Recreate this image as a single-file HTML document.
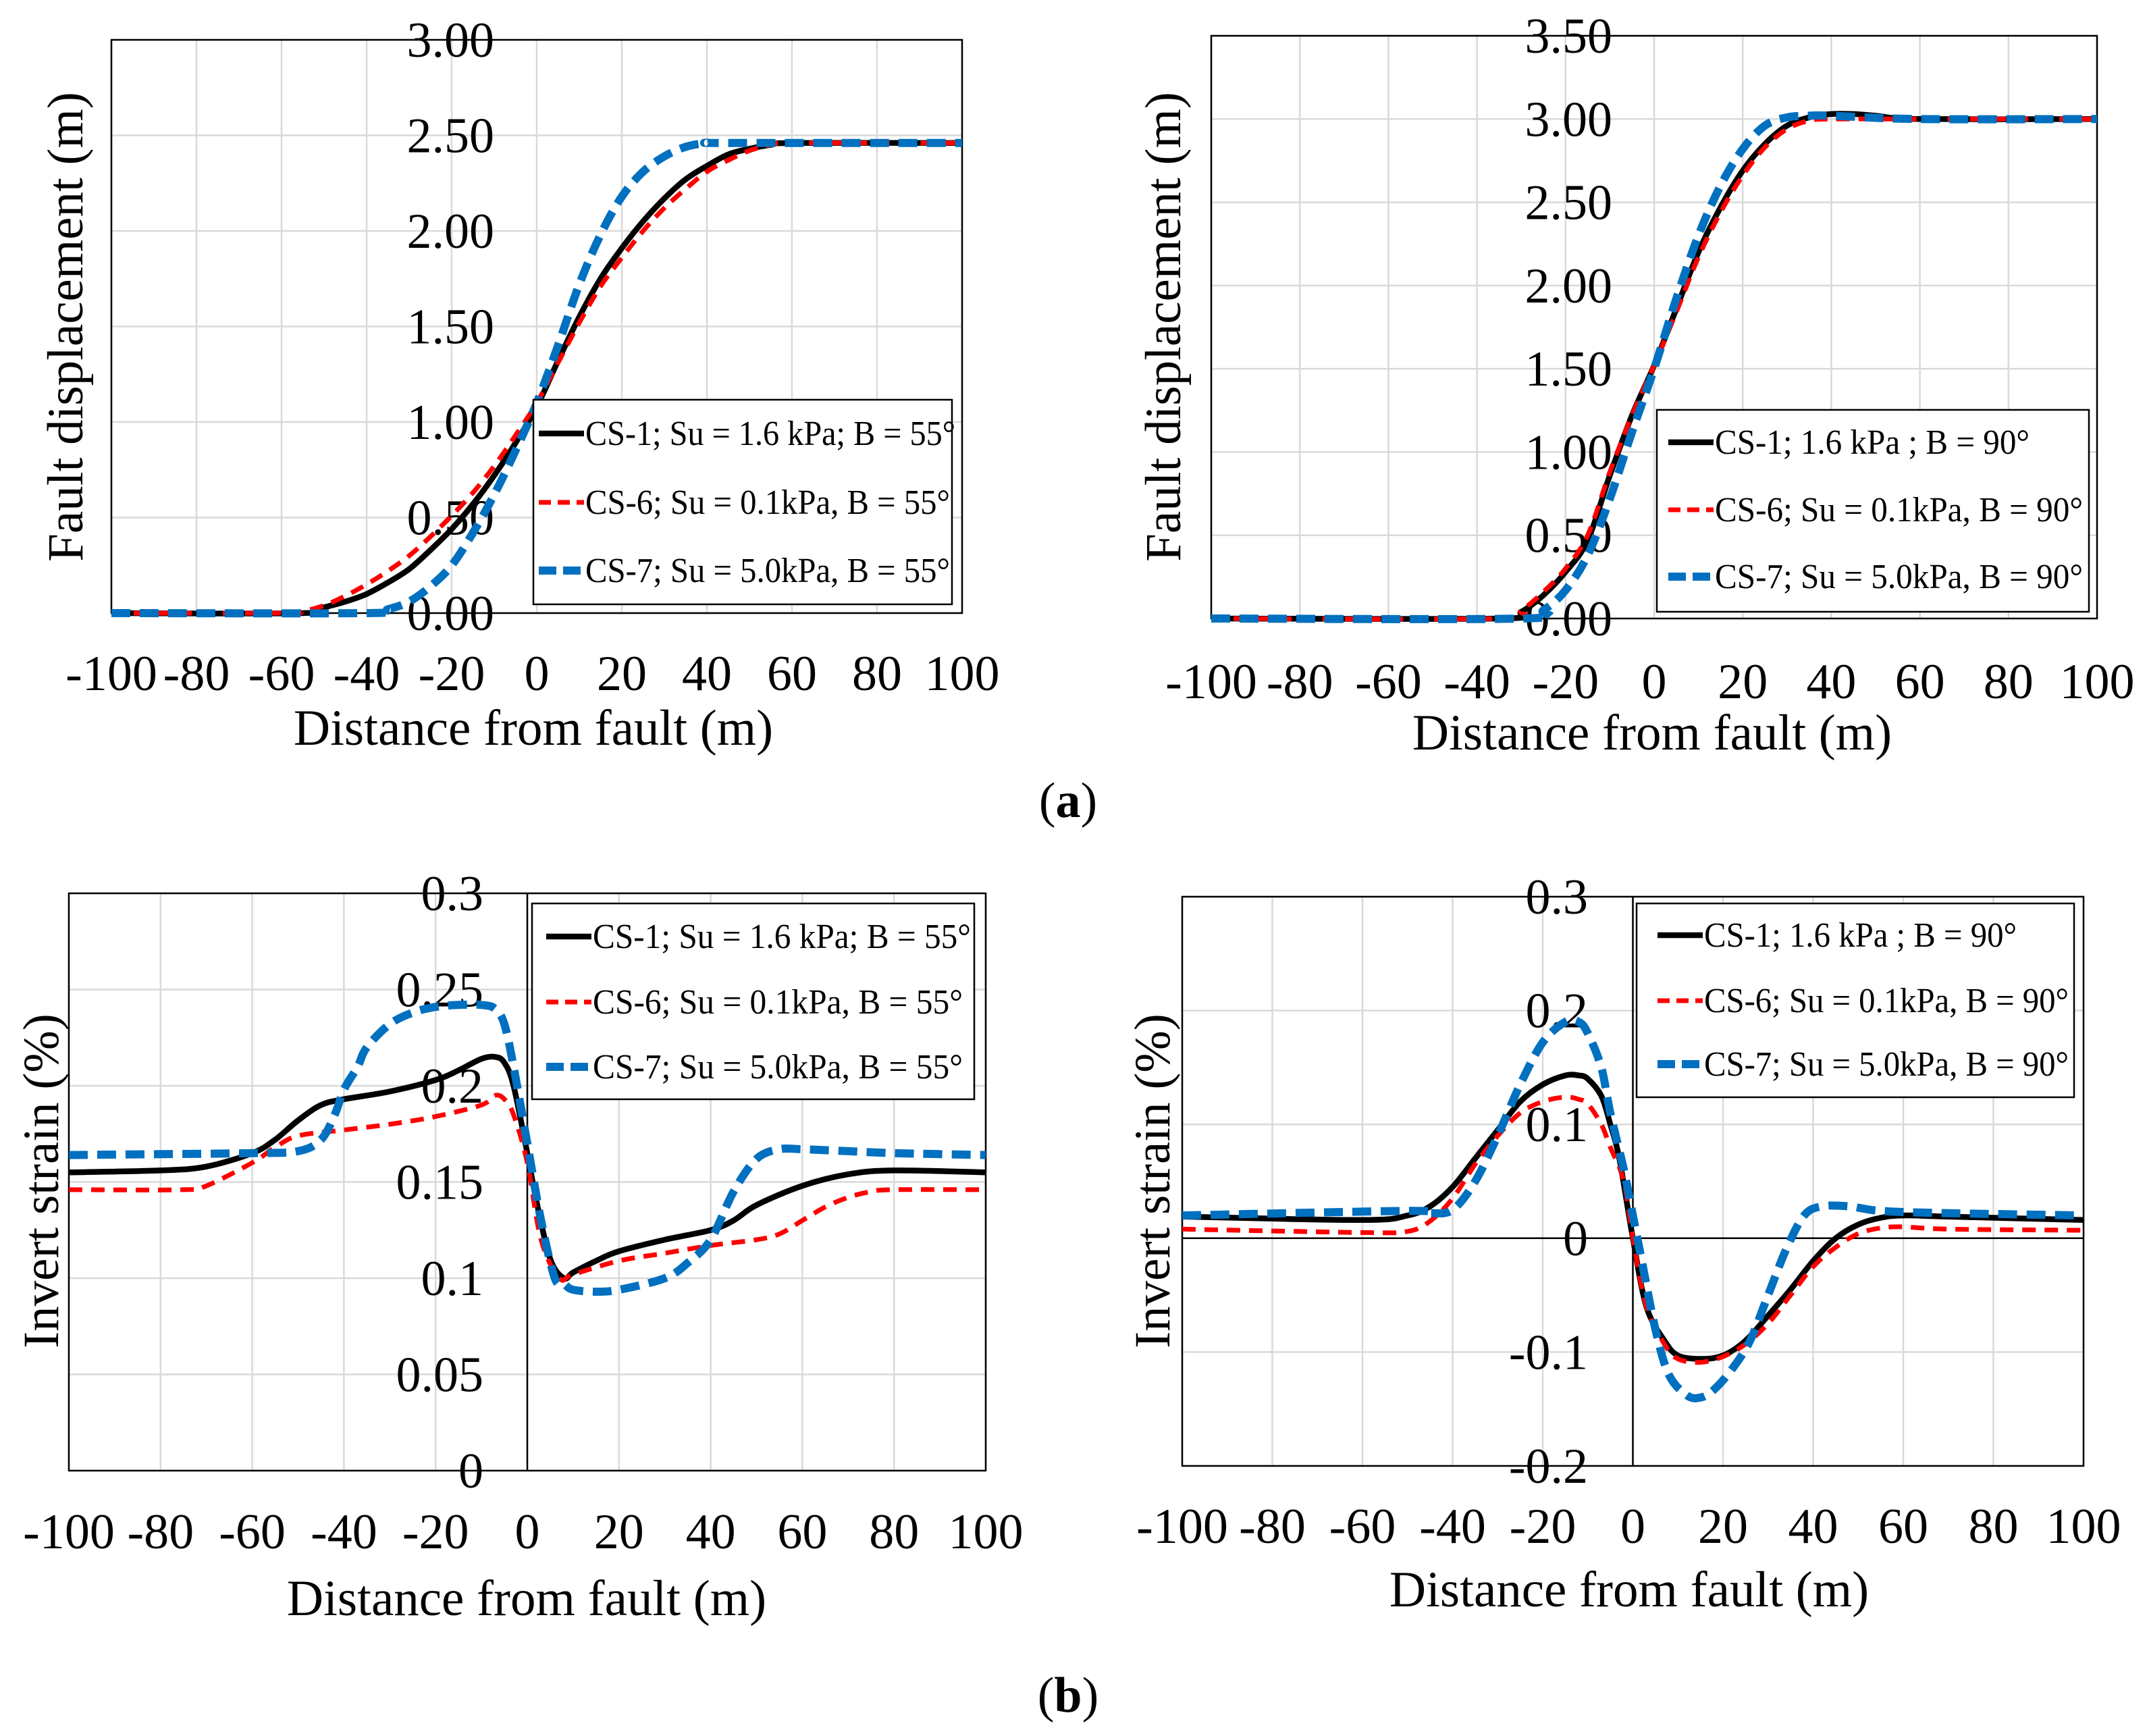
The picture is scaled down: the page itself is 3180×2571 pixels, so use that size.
<!DOCTYPE html>
<html><head><meta charset="utf-8"><style>
html,body{margin:0;padding:0;background:#fff}
svg{display:block}
text{font-family:"Liberation Serif",serif;fill:#000}
</style></head><body>
<svg id="fig" width="3180" height="2571" viewBox="0 0 3180 2571" xmlns="http://www.w3.org/2000/svg">
<rect width="3180" height="2571" fill="#fff"/>
<text x="1582" y="1210" font-size="74" text-anchor="middle">(<tspan font-weight="bold">a</tspan>)</text>
<text x="1582" y="2535" font-size="74" text-anchor="middle">(<tspan font-weight="bold">b</tspan>)</text>
</svg>
<script>
// ---- data ----
const xTicks = [-100,-80,-60,-40,-20,0,20,40,60,80,100];
const seriesNames = ["CS-1", "CS-6", "CS-7"];
// Chart a1
const a1Y = [0,0.5,1,1.5,2,2.5,3];
const a1YLabels = ["0.00","0.50","1.00","1.50","2.00","2.50","3.00"];
const a1Legend = ["CS-1; Su = 1.6 kPa; B = 55°","CS-6; Su = 0.1kPa, B = 55°","CS-7; Su = 5.0kPa, B = 55°"];
const a1X1 = [-100,-55,-50,-45,-40,-35,-30,-25,-20,-15,-10,-5,0,5,10,15,20,25,30,35,40,45,50,55,60,100];
const a1S1 = [0,0,0.03,0.06,0.10,0.16,0.23,0.33,0.44,0.57,0.72,0.89,1.08,1.32,1.55,1.75,1.91,2.05,2.17,2.27,2.34,2.40,2.43,2.45,2.46,2.46];
const a1X6 = [-100,-60,-55,-50,-45,-40,-35,-30,-25,-20,-15,-10,-5,0,5,10,15,20,25,30,35,40,45,50,55,60,100];
const a1S6 = [0,0,0.01,0.04,0.09,0.15,0.22,0.30,0.40,0.51,0.63,0.77,0.93,1.10,1.31,1.52,1.71,1.86,2.00,2.12,2.22,2.31,2.37,2.42,2.45,2.46,2.46];
const a1X7 = [-100,-40,-35,-30,-25,-20,-15,-10,-5,0,5,10,15,20,25,30,35,40,45,100];
const a1S7 = [0,0,0.02,0.06,0.14,0.25,0.42,0.62,0.85,1.10,1.40,1.72,1.98,2.18,2.31,2.39,2.44,2.46,2.46,2.46];
// Chart a2
const a2Y = [0,0.5,1,1.5,2,2.5,3,3.5];
const a2YLabels = ["0.00","0.50","1.00","1.50","2.00","2.50","3.00","3.50"];
const a2Legend = ["CS-1; 1.6 kPa ; B = 90°","CS-6; Su = 0.1kPa, B = 90°","CS-7; Su = 5.0kPa, B = 90°"];
const a2X1 = [-100,-35,-30,-25,-20,-15,-10,-5,0,5,10,15,20,25,30,35,40,45,50,60,100];
const a2S1 = [0,0,0.04,0.14,0.28,0.47,0.86,1.22,1.52,1.86,2.20,2.47,2.69,2.85,2.96,3.01,3.03,3.03,3.02,3.00,3.00];
const a2X6 = [-100,-35,-30,-25,-20,-15,-10,-5,0,5,10,15,20,25,30,35,40,60,100];
const a2S6 = [0,0,0.05,0.16,0.30,0.50,0.88,1.22,1.52,1.84,2.17,2.44,2.66,2.83,2.94,2.99,3.00,3.00,3.00];
const a2X7 = [-100,-30,-25,-20,-15,-10,-5,0,5,10,15,20,25,30,35,40,60,100];
const a2S7 = [0,0,0.05,0.17,0.38,0.72,1.12,1.50,1.92,2.30,2.60,2.82,2.96,3.01,3.02,3.02,3.00,3.00];
// Chart b1
const b1Y = [0,0.05,0.1,0.15,0.2,0.25,0.3];
const b1YLabels = ["0","0.05","0.1","0.15","0.2","0.25","0.3"];
const b1Legend = ["CS-1; Su = 1.6 kPa; B = 55°","CS-6; Su = 0.1kPa, B = 55°","CS-7; Su = 5.0kPa, B = 55°"];
const b1X1 = [-100,-80,-70,-60,-55,-50,-45,-40,-30,-20,-15,-10,-7,-5,-3,0,2,5,8,10,15,20,30,40,45,50,60,70,80,100];
const b1S1 = [0.155,0.156,0.158,0.165,0.172,0.182,0.19,0.193,0.197,0.203,0.208,0.214,0.215,0.212,0.200,0.165,0.14,0.11,0.10,0.103,0.109,0.114,0.12,0.125,0.13,0.138,0.148,0.154,0.156,0.155];
const b1X6 = [-100,-75,-70,-60,-55,-50,-40,-30,-20,-10,-7,-5,-3,0,3,7,10,20,30,40,50,55,60,65,70,75,80,100];
const b1S6 = [0.146,0.146,0.148,0.16,0.168,0.174,0.177,0.18,0.184,0.19,0.195,0.193,0.185,0.16,0.12,0.10,0.102,0.109,0.113,0.117,0.12,0.123,0.13,0.137,0.142,0.145,0.146,0.146];
const b1X7 = [-100,-60,-50,-45,-42,-40,-37,-35,-30,-25,-20,-15,-10,-7,-5,-3,0,3,6,8,10,15,20,30,35,40,45,50,55,60,70,80,100];
const b1S7 = [0.164,0.165,0.166,0.172,0.185,0.198,0.21,0.22,0.232,0.238,0.241,0.242,0.242,0.24,0.232,0.21,0.17,0.13,0.10,0.097,0.094,0.093,0.094,0.10,0.108,0.12,0.145,0.162,0.167,0.167,0.166,0.165,0.164];
// Chart b2
const b2Y = [-0.2,-0.1,0,0.1,0.2,0.3];
const b2YLabels = ["-0.2","-0.1","0","0.1","0.2","0.3"];
const b2Legend = ["CS-1; 1.6 kPa ; B = 90°","CS-6; Su = 0.1kPa, B = 90°","CS-7; Su = 5.0kPa, B = 90°"];
const b2X1 = [-100,-60,-50,-45,-40,-35,-30,-25,-20,-15,-12,-10,-7,-5,-3,0,3,7,10,15,20,25,30,35,40,45,50,55,60,70,100];
const b2S1 = [0.019,0.016,0.02,0.028,0.045,0.07,0.095,0.12,0.135,0.143,0.143,0.14,0.125,0.10,0.07,0,-0.06,-0.09,-0.103,-0.106,-0.103,-0.09,-0.068,-0.045,-0.02,0,0.012,0.018,0.02,0.019,0.016];
const b2X6 = [-100,-60,-50,-45,-40,-35,-30,-25,-20,-15,-12,-10,-7,-5,-2,0,3,7,10,15,20,25,30,35,40,45,50,55,60,70,100];
const b2S6 = [0.008,0.005,0.006,0.015,0.035,0.065,0.09,0.11,0.12,0.124,0.122,0.118,0.10,0.08,0.05,0,-0.06,-0.093,-0.106,-0.109,-0.104,-0.093,-0.075,-0.05,-0.025,-0.008,0.004,0.009,0.01,0.008,0.007];
const b2X7 = [-100,-50,-45,-40,-35,-30,-25,-20,-15,-12,-10,-7,-5,-2,0,2,5,8,12,15,18,22,26,30,34,38,42,48,55,70,100];
const b2S7 = [0.02,0.024,0.022,0.025,0.05,0.09,0.135,0.172,0.19,0.19,0.18,0.15,0.11,0.06,0.02,-0.02,-0.08,-0.12,-0.138,-0.14,-0.133,-0.115,-0.09,-0.05,-0.01,0.02,0.028,0.028,0.024,0.022,0.02];

// ---- rendering ----
const NS = "http://www.w3.org/2000/svg";
const svg = document.getElementById("fig");
function mk(tag, attrs, parent){
  const e = document.createElementNS(NS, tag);
  for (const k in attrs) e.setAttribute(k, attrs[k]);
  (parent||svg).appendChild(e);
  return e;
}
function smoothPath(pts){
  let d = "M" + pts[0][0].toFixed(1) + "," + pts[0][1].toFixed(1);
  for (let i=0;i<pts.length-1;i++){
    const p0 = pts[Math.max(0,i-1)], p1 = pts[i], p2 = pts[i+1], p3 = pts[Math.min(pts.length-1,i+2)];
    const t = 6;
    const c1x = p1[0]+(p2[0]-p0[0])/t, c1y = p1[1]+(p2[1]-p0[1])/t;
    const c2x = p2[0]-(p3[0]-p1[0])/t, c2y = p2[1]-(p3[1]-p1[1])/t;
    d += " C"+c1x.toFixed(1)+","+c1y.toFixed(1)+" "+c2x.toFixed(1)+","+c2y.toFixed(1)+" "+p2[0].toFixed(1)+","+p2[1].toFixed(1);
  }
  return d;
}
const styles = [
  {stroke:"#000000", w:8.5, dash:null},
  {stroke:"#ff0000", w:7, dash:"20 13"},
  {stroke:"#0070c0", w:12, dash:"28 14"}
];

function chart(cfg){
  const g = mk("g", {});
  
  
  const xs = v => cfg.L + (v+100)/200*(cfg.R-cfg.L);
  const ys = v => cfg.B - (v-cfg.yMin)/(cfg.yMax-cfg.yMin)*(cfg.B-cfg.T);
  xTicks.forEach(t=>{
    const l = mk("line",{x1:xs(t),x2:xs(t),y1:cfg.T,y2:cfg.B,stroke:"#d9d9d9","stroke-width":2.5},g);
    
    
  });
  cfg.yVals.forEach(t=>{
    const l = mk("line",{x1:cfg.L,x2:cfg.R,y1:ys(t),y2:ys(t),stroke:"#d9d9d9","stroke-width":2.5},g);
    
    
  });
  const bd = mk("rect",{x:cfg.L,y:cfg.T,width:cfg.R-cfg.L,height:cfg.B-cfg.T,fill:"none",stroke:"#000","stroke-width":2.5},g);
  
  
  if (cfg.zeroAxes){
    const v = mk("line",{x1:xs(0),x2:xs(0),y1:cfg.T,y2:cfg.B,stroke:"#000","stroke-width":2.5},g);
    
    
    if (cfg.yMin<0){
      const h = mk("line",{x1:cfg.L,x2:cfg.R,y1:ys(0),y2:ys(0),stroke:"#000","stroke-width":2.5},g);
      
      
    }
  }
  cfg.yVals.forEach((t,i)=>{
    const tx = mk("text",{x:cfg.yLabX,y:ys(t)+25,"font-size":74,"text-anchor":"end"},g);
    tx.textContent = cfg.yLabels[i];
    
    
  });
  xTicks.forEach(t=>{
    const tx = mk("text",{x:xs(t),y:cfg.xLabY,"font-size":74,"text-anchor":"middle"},g);
    tx.textContent = String(t);
    
    
  });
  const xt = mk("text",{x:cfg.xTitleX,y:cfg.xTitleY,"font-size":75,"text-anchor":"middle"},g);
  xt.textContent = "Distance from fault (m)";
  
  
  const yt = mk("text",{x:0,y:0,"font-size":75,"text-anchor":"middle",transform:"translate("+cfg.yTitleX+","+cfg.yTitleY+") rotate(-90)"},g);
  yt.textContent = cfg.yTitle;
  
  
  cfg.series.forEach((s,i)=>{
    const pts = s.x.map((xv,j)=>[xs(xv), ys(s.y[j])]);
    const st = styles[i];
    const a = {d:smoothPath(pts),fill:"none",stroke:st.stroke,"stroke-width":st.w,"stroke-linejoin":"round"};
    if (st.dash) a["stroke-dasharray"] = st.dash;
    const p = mk("path",a,g);
    
    
  });
  const lg = mk("g",{},g);
  
  
  const lb = mk("rect",{x:cfg.leg.x,y:cfg.leg.y,width:cfg.leg.w,height:cfg.leg.h,fill:"#fff",stroke:"#000","stroke-width":2.5},lg);
  
  
  cfg.legend.forEach((lab,i)=>{
    const ry = cfg.leg.rows[i];
    const st = styles[i];
    const la = {x1:cfg.leg.sx,x2:cfg.leg.sx+67,y1:ry,y2:ry,stroke:st.stroke,"stroke-width":st.w};
    if (st.dash) la["stroke-dasharray"] = i==1 ? "18 10" : "26 10";
    const ln = mk("line",la,lg);
    
    
    const tx = mk("text",{x:cfg.leg.sx+69,y:ry+17,"font-size":52,textLength:cfg.leg.tl[i],lengthAdjust:"spacingAndGlyphs"},lg);
    tx.textContent = lab;
    
    
  });
}

chart({name:"chart-a-55deg-displacement",L:165,R:1425,T:59,B:908,yMin:0,yMax:3,yVals:a1Y,yLabels:a1YLabels,
  yLabX:732,xLabY:1022,xTitleX:790,xTitleY:1103,yTitleX:122,yTitleY:484,yTitle:"Fault displacement (m)",
  series:[{x:a1X1,y:a1S1},{x:a1X6,y:a1S6},{x:a1X7,y:a1S7}],legend:a1Legend,
  leg:{x:790,y:592,w:620,h:303,rows:[642,744,845],sx:798,tl:[548,540,540]}});
chart({name:"chart-a-90deg-displacement",L:1794,R:3106,T:53,B:916,yMin:0,yMax:3.5,yVals:a2Y,yLabels:a2YLabels,
  yLabX:2388,xLabY:1034,xTitleX:2447,xTitleY:1110,yTitleX:1748,yTitleY:484,yTitle:"Fault displacement (m)",
  series:[{x:a2X1,y:a2S1},{x:a2X6,y:a2S6},{x:a2X7,y:a2S7}],legend:a2Legend,
  leg:{x:2454,y:607,w:640,h:299,rows:[655,755,854],sx:2471,tl:[466,545,545]}});
chart({name:"chart-b-55deg-strain",L:102,R:1460,T:1323,B:2178,yMin:0,yMax:0.3,yVals:b1Y,yLabels:b1YLabels,zeroAxes:true,
  yLabX:716,xLabY:2293,xTitleX:780,xTitleY:2392,yTitleX:86,yTitleY:1749,yTitle:"Invert strain (%)",
  series:[{x:b1X1,y:b1S1},{x:b1X6,y:b1S6},{x:b1X7,y:b1S7}],legend:b1Legend,
  leg:{x:788,y:1338,w:655,h:290,rows:[1387,1484,1580],sx:809,tl:[560,548,548]}});
chart({name:"chart-b-90deg-strain",L:1751,R:3086,T:1328,B:2171,yMin:-0.2,yMax:0.3,yVals:b2Y,yLabels:b2YLabels,zeroAxes:true,
  yLabX:2352,xLabY:2285,xTitleX:2413,xTitleY:2379,yTitleX:1732,yTitleY:1749,yTitle:"Invert strain (%)",
  series:[{x:b2X1,y:b2S1},{x:b2X6,y:b2S6},{x:b2X7,y:b2S7}],legend:b2Legend,
  leg:{x:2424,y:1338,w:648,h:287,rows:[1385,1482,1576],sx:2455,tl:[463,540,540]}});
</script>
</body></html>
